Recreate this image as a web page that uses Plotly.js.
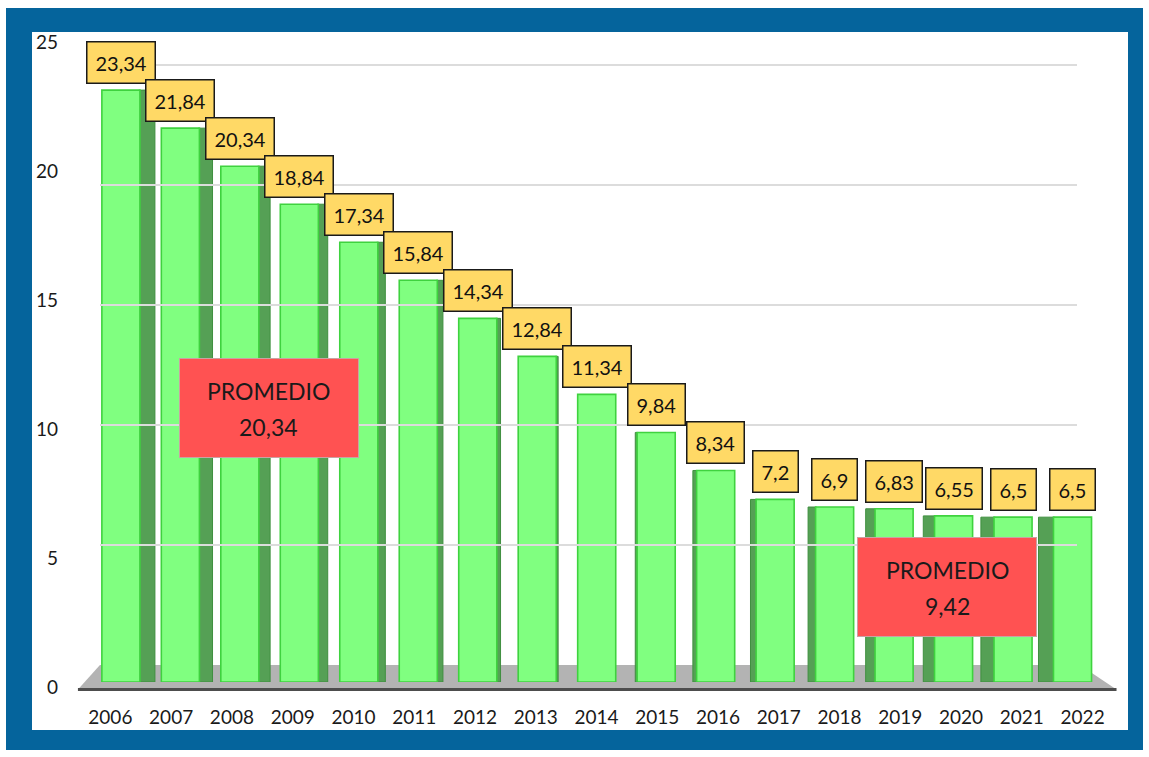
<!DOCTYPE html>
<html>
<head>
<meta charset="utf-8">
<script src="https://cdn.plot.ly/plotly-3.0.1.min.js"></script>
<style>
  html, body { margin: 0; padding: 0; background: #ffffff; width: 1149px; height: 757px; overflow: hidden; }
  #frame { position: absolute; left: 6px; top: 8px; width: 1137px; height: 742px; background: #05649c; }
  #inner { position: absolute; left: 32px; top: 32px; width: 1096px; height: 698px; background: #ffffff; }
  #chart { position: absolute; left: 0; top: 0; width: 1149px; height: 757px; }
</style>
</head>
<body>
<div id="frame"></div>
<div id="inner"></div>
<div id="chart"></div>
<script>
// ---- data ----
const years = ['2006','2007','2008','2009','2010','2011','2012','2013','2014','2015','2016','2017','2018','2019','2020','2021','2022'];
const values = [23.34, 21.84, 20.34, 18.84, 17.34, 15.84, 14.34, 12.84, 11.34, 9.84, 8.34, 7.2, 6.9, 6.83, 6.55, 6.5, 6.5];
const averageLabel = 'PROMEDIO';
const averages = [20.34, 9.42];
const yTicks = [0, 5, 10, 15, 20, 25];

// ---- helpers ----
const fmt = v => String(v).replace('.', ',');
const FONT = 'Lato, "Open Sans", sans-serif';
const mid = (years.length - 1) / 2;
const faceW = 0.64;
const sideStep = 0.0315;

const sideOffset = [], sideWidth = [];
years.forEach((y, i) => {
  const d = i - mid;
  const w = Math.abs(d) * sideStep;
  if (d < 0) { sideOffset.push(faceW / 2 - 0.02); sideWidth.push(w + 0.02); }
  else if (d > 0) { sideOffset.push(-faceW / 2 - w); sideWidth.push(w + 0.02); }
  else { sideOffset.push(0); sideWidth.push(0.0001); }
});

const sideTrace = {
  type: 'bar', x: years, y: values, xaxis: 'x2', yaxis: 'y2',
  offset: sideOffset, width: sideWidth,
  marker: { color: '#55a055', line: { color: '#3f8f3f', width: 1 } },
  hoverinfo: 'skip', showlegend: false
};
const frontTrace = {
  type: 'bar', x: years, y: values, xaxis: 'x2', yaxis: 'y2',
  offset: -faceW / 2, width: faceW,
  marker: { color: '#80ff80', line: { color: '#3fd23f', width: 1.6 } },
  hoverinfo: 'skip', showlegend: false
};
const gridTrace = {
  type: 'scatter', x: [], y: [], xaxis: 'x3', yaxis: 'y3',
  hoverinfo: 'skip', showlegend: false
};
const axisTrace = {
  type: 'scatter', x: years, y: values.map(() => null), xaxis: 'x', yaxis: 'y',
  hoverinfo: 'skip', showlegend: false
};

// data labels: category axes take the index as position
const annotations = values.map((v, i) => ({
  xref: 'x2', yref: 'y2', x: i, y: v,
  text: fmt(v), showarrow: false, xanchor: 'center', yanchor: 'bottom', yshift: 6,
  bgcolor: '#ffd966', bordercolor: '#1a1a1a', borderwidth: 1.5, borderpad: 8,
  font: { family: FONT, size: 20, color: '#111111' }
}));

const boxPos = [{ x: 0.1828, y: 0.4326 }, { x: 0.8394, y: 0.155 }];
averages.forEach((a, k) => {
  annotations.push({
    xref: 'paper', yref: 'paper', x: boxPos[k].x, y: boxPos[k].y,
    xanchor: 'center', yanchor: 'middle',
    text: ' ', showarrow: false,
    width: 178, height: 98,
    bgcolor: '#ff5252', bordercolor: '#c9a3a3', borderwidth: 1, borderpad: 0,
    font: { family: FONT, size: 22, color: '#1a1a1a' }
  });
  annotations.push({
    xref: 'paper', yref: 'paper', x: boxPos[k].x, y: boxPos[k].y,
    xanchor: 'center', yanchor: 'middle', yshift: 17,
    text: averageLabel, showarrow: false,
    font: { family: FONT, size: 23, color: '#1a1a1a' }
  });
  annotations.push({
    xref: 'paper', yref: 'paper', x: boxPos[k].x, y: boxPos[k].y,
    xanchor: 'center', yanchor: 'middle', yshift: -19,
    text: fmt(a), showarrow: false,
    font: { family: FONT, size: 23, color: '#1a1a1a' }
  });
});

const layout = {
  width: 1149, height: 757,
  margin: { l: 80.1, r: 35.6, t: 42, b: 70 },
  paper_bgcolor: 'rgba(0,0,0,0)', plot_bgcolor: 'rgba(0,0,0,0)',
  barmode: 'overlay',
  showlegend: false,
  xaxis: {
    type: 'category', categoryarray: years, range: [-0.5, years.length - 0.5],
    domain: [0, 1], showgrid: false, zeroline: false, showline: false, ticks: '',
    ticklabelstandoff: 17, tickfont: { family: FONT, size: 19, color: '#1a1a1a' }, fixedrange: true
  },
  yaxis: {
    range: [0, 25], domain: [0, 1], tickvals: yTicks, ticktext: yTicks.map(String),
    showgrid: false, zeroline: false, showline: false, ticks: '',
    ticklabelstandoff: 21, ticklabeloverflow: 'allow',
    tickfont: { family: FONT, size: 19, color: '#1a1a1a' }, fixedrange: true
  },
  xaxis2: {
    type: 'category', categoryarray: years, range: [-0.5, years.length - 0.5],
    domain: [0.0108, 0.9896], anchor: 'y2', visible: false, fixedrange: true
  },
  yaxis2: {
    range: [0, 25], domain: [0.00775, 0.9907], anchor: 'x2', visible: false, fixedrange: true
  },
  xaxis3: {
    range: [0, 1], domain: [0.0193, 0.9647], anchor: 'y3',
    showgrid: false, zeroline: false, showline: false, showticklabels: false, ticks: '', fixedrange: true
  },
  yaxis3: {
    range: [1, 25.5], domain: [0.0713, 0.983], anchor: 'x3', tickvals: yTicks,
    showgrid: true, gridcolor: '#dcdcdc', gridwidth: 1.5,
    zeroline: false, showline: false, showticklabels: false, ticks: '', fixedrange: true
  },
  shapes: [
    { type: 'path', xref: 'paper', yref: 'paper', layer: 'below',
      path: 'M -0.002 -0.004 L 1.0034 -0.004 L 0.968 0.0341 L 0.0193 0.0341 Z',
      fillcolor: '#b3b3b3', line: { width: 0 } },
    { type: 'line', xref: 'paper', yref: 'paper', layer: 'below',
      x0: -0.002, x1: 1.0034, y0: -0.004, y1: -0.004,
      line: { color: '#4d4d4d', width: 3 } }
  ],
  annotations: annotations
};

Plotly.newPlot('chart', [gridTrace, axisTrace, sideTrace, frontTrace], layout, { displayModeBar: false, staticPlot: true });
</script>
</body>
</html>
